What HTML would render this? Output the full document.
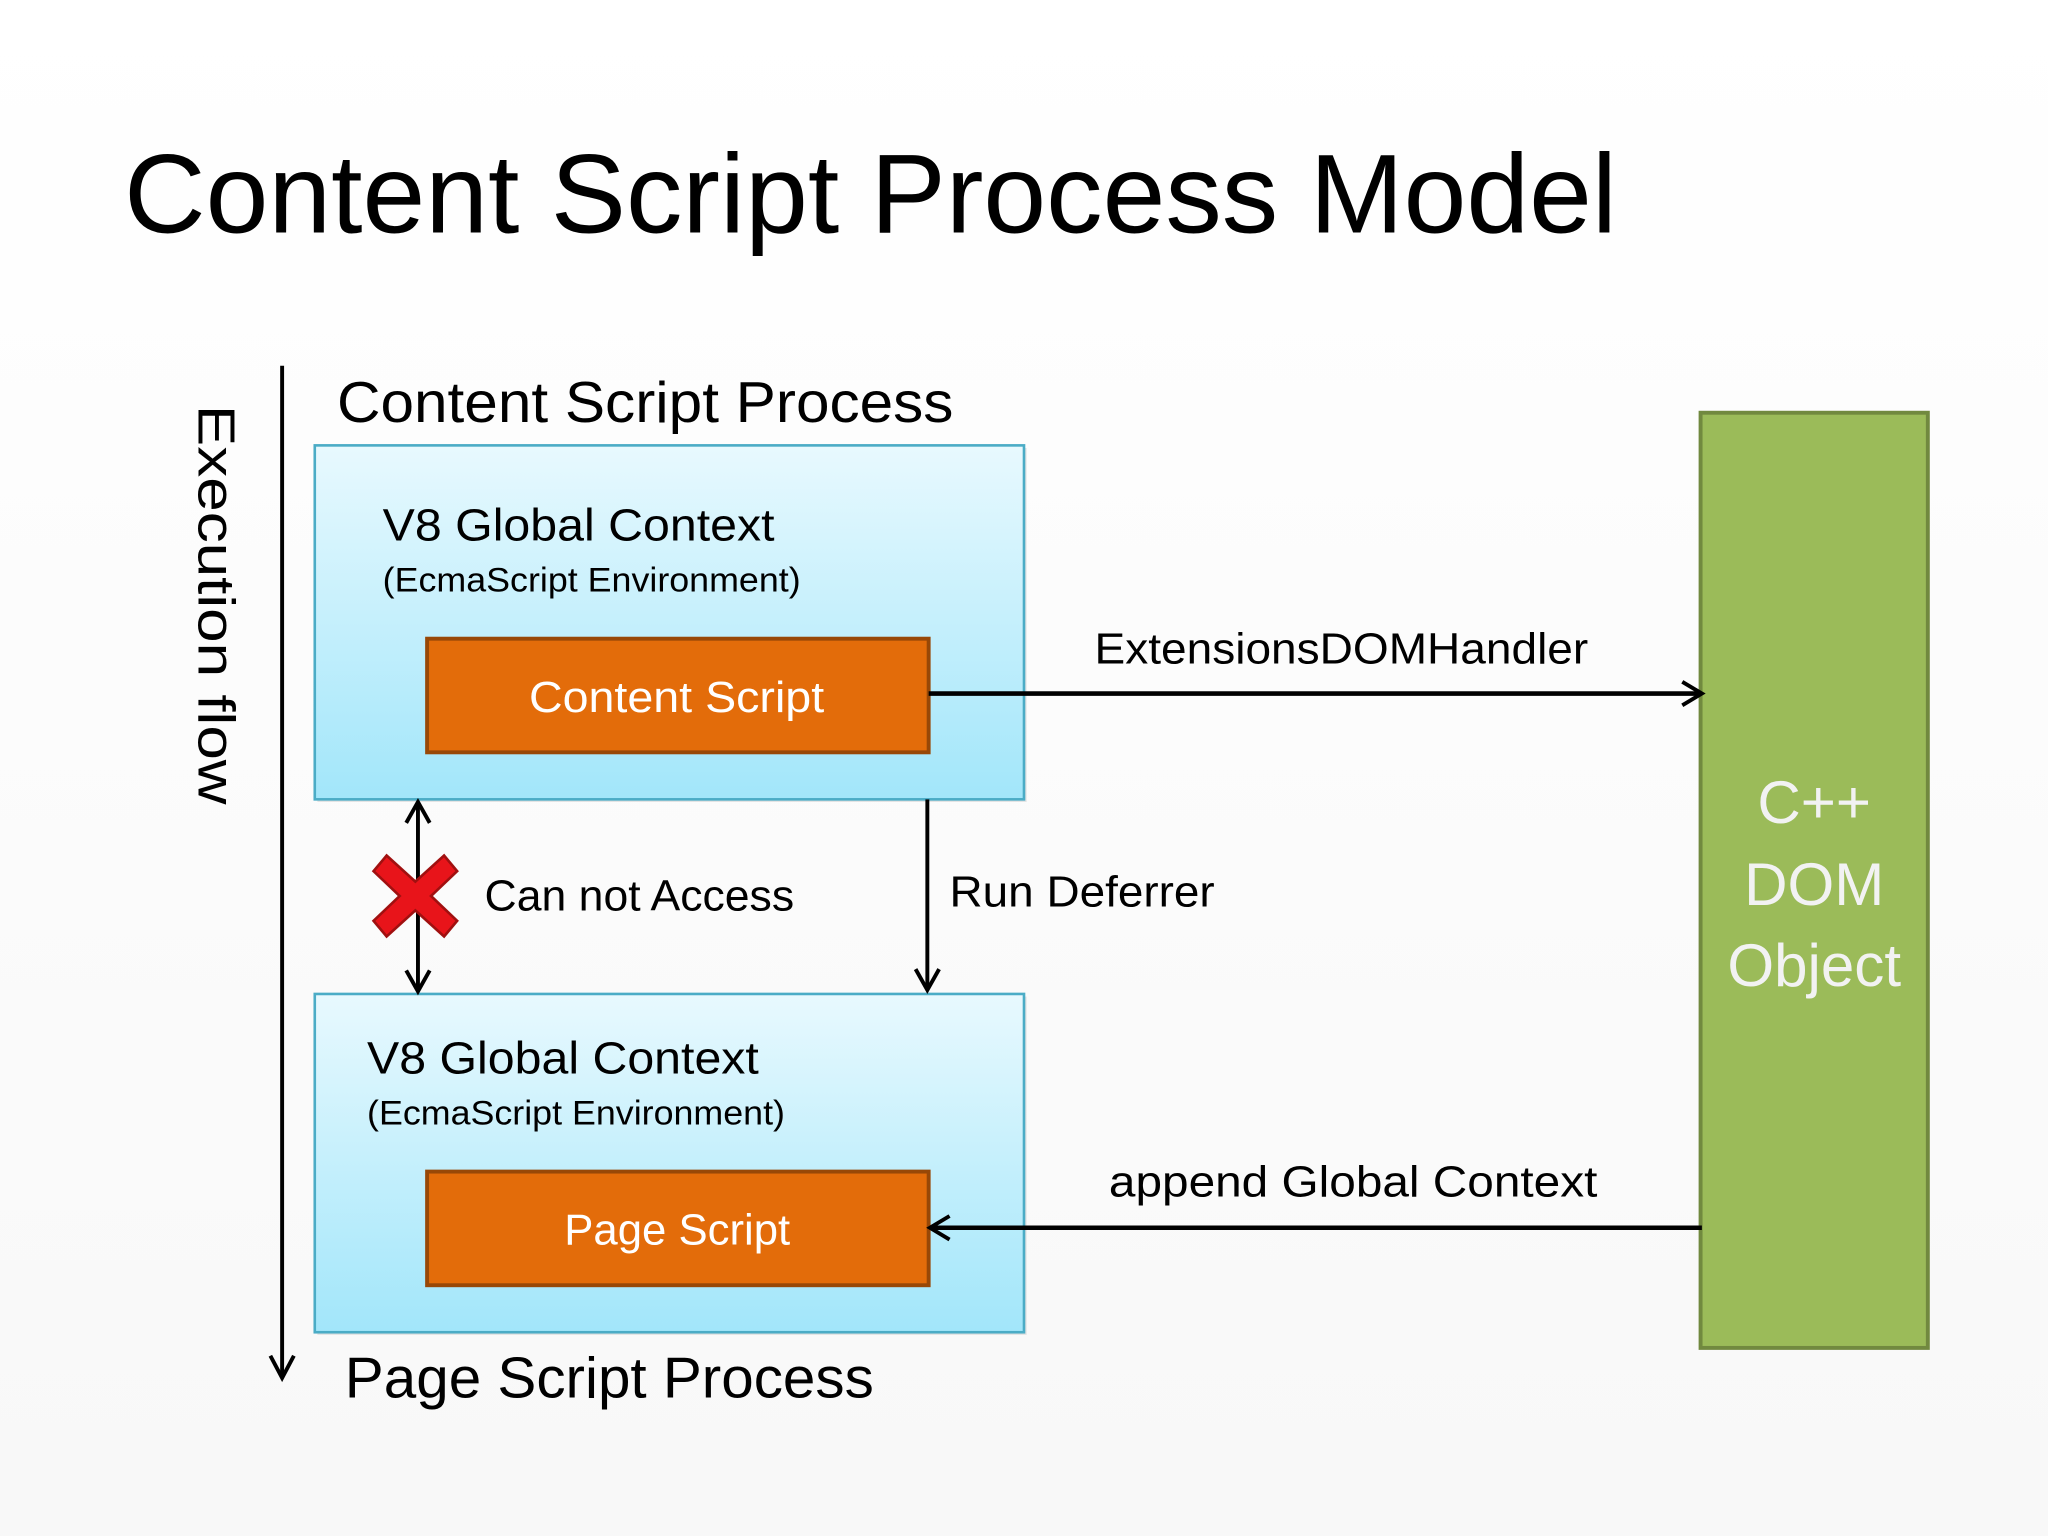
<!DOCTYPE html>
<html><head><meta charset="utf-8"><style>html,body{margin:0;padding:0;background:#fff}svg{display:block}</style></head>
<body>
<svg width="2048" height="1536" viewBox="0 0 1568 1176" xmlns="http://www.w3.org/2000/svg" font-family="Liberation Sans, sans-serif">
<defs>
<linearGradient id="bg" x1="0" y1="0" x2="0" y2="1"><stop offset="0" stop-color="#e8f9fe"/><stop offset="1" stop-color="#a2e6fa"/></linearGradient>
<linearGradient id="wh" x1="0" y1="0" x2="0" y2="1"><stop offset="0" stop-color="#ffffff"/><stop offset="1" stop-color="#f8f8f8"/></linearGradient>
</defs>
<rect width="1568" height="1176" fill="url(#wh)"/>
<text x="95" y="178" font-size="86" textLength="1143" lengthAdjust="spacingAndGlyphs" fill="#000">Content Script Process Model</text>
<!-- execution flow -->
<line x1="216" y1="280" x2="216" y2="1052" stroke="#000" stroke-width="3"/>
<path d="M207 1038 L216 1055 L225 1038" fill="none" stroke="#000" stroke-width="3"/>
<text transform="translate(152,310) rotate(90)" font-size="40" textLength="306" lengthAdjust="spacingAndGlyphs" fill="#000">Execution flow</text>
<text x="258" y="323" font-size="44" textLength="472" lengthAdjust="spacingAndGlyphs">Content Script Process</text>
<!-- box1 -->
<rect x="243" y="343" width="543" height="271" fill="#ccc" opacity="0.5"/>
<rect x="241" y="341" width="543" height="271" fill="url(#bg)" stroke="#4bacc6" stroke-width="2"/>
<text x="293" y="414" font-size="35" textLength="300" lengthAdjust="spacingAndGlyphs">V8 Global Context</text>
<text x="293" y="453" font-size="26" textLength="320" lengthAdjust="spacingAndGlyphs">(EcmaScript Environment)</text>
<rect x="327" y="489" width="384" height="87" fill="#e36c0a" stroke="#984807" stroke-width="3"/>
<text x="405" y="545" font-size="33" fill="#fff" textLength="226" lengthAdjust="spacingAndGlyphs">Content Script</text>
<!-- box2 -->
<rect x="243" y="763" width="543" height="259" fill="#ccc" opacity="0.5"/>
<rect x="241" y="761" width="543" height="259" fill="url(#bg)" stroke="#4bacc6" stroke-width="2"/>
<text x="281" y="822" font-size="35" textLength="300" lengthAdjust="spacingAndGlyphs">V8 Global Context</text>
<text x="281" y="861" font-size="26" textLength="320" lengthAdjust="spacingAndGlyphs">(EcmaScript Environment)</text>
<rect x="327" y="897" width="384" height="87" fill="#e36c0a" stroke="#984807" stroke-width="3"/>
<text x="432" y="953" font-size="33" fill="#fff" textLength="173" lengthAdjust="spacingAndGlyphs">Page Script</text>
<!-- green -->
<rect x="1302" y="316" width="174" height="716" fill="#9bbb59" stroke="#71893f" stroke-width="3"/>
<g fill="#f2f2f2" font-size="46" text-anchor="middle">
<text x="1389" y="630">C++</text><text x="1389" y="693">DOM</text><text x="1389" y="755">Object</text></g>
<!-- arrows -->
<line x1="711" y1="531" x2="1302" y2="531" stroke="#000" stroke-width="3.5"/>
<path d="M1288 522 L1303 531 L1288 540" fill="none" stroke="#000" stroke-width="3"/>
<text x="838" y="508" font-size="33" textLength="378" lengthAdjust="spacingAndGlyphs">ExtensionsDOMHandler</text>
<line x1="714" y1="940" x2="1303" y2="940" stroke="#000" stroke-width="3.5"/>
<path d="M727 931 L712 940 L727 949" fill="none" stroke="#000" stroke-width="3"/>
<text x="849" y="916" font-size="33" textLength="374" lengthAdjust="spacingAndGlyphs">append  Global Context</text>
<line x1="710" y1="612" x2="710" y2="756" stroke="#000" stroke-width="3"/>
<path d="M701 742 L710 758 L719 742" fill="none" stroke="#000" stroke-width="3"/>
<text x="727" y="694" font-size="33" textLength="203" lengthAdjust="spacingAndGlyphs">Run Deferrer</text>
<line x1="320" y1="616" x2="320" y2="757" stroke="#000" stroke-width="3"/>
<path d="M311 630 L320 614 L329 630 M311 743 L320 759 L329 743" fill="none" stroke="#000" stroke-width="3"/>
<path d="M296 655 L318 675 L340 655 L350 667 L330 686 L350 705 L340 717 L318 697 L296 717 L286 705 L306 686 L286 667 Z" fill="#e8141a" stroke="#a01010" stroke-width="2"/>
<text x="371" y="697" font-size="33" textLength="237" lengthAdjust="spacingAndGlyphs">Can not Access</text>
<text x="264" y="1070" font-size="44" textLength="405" lengthAdjust="spacingAndGlyphs">Page Script Process</text>
</svg>
</body></html>
